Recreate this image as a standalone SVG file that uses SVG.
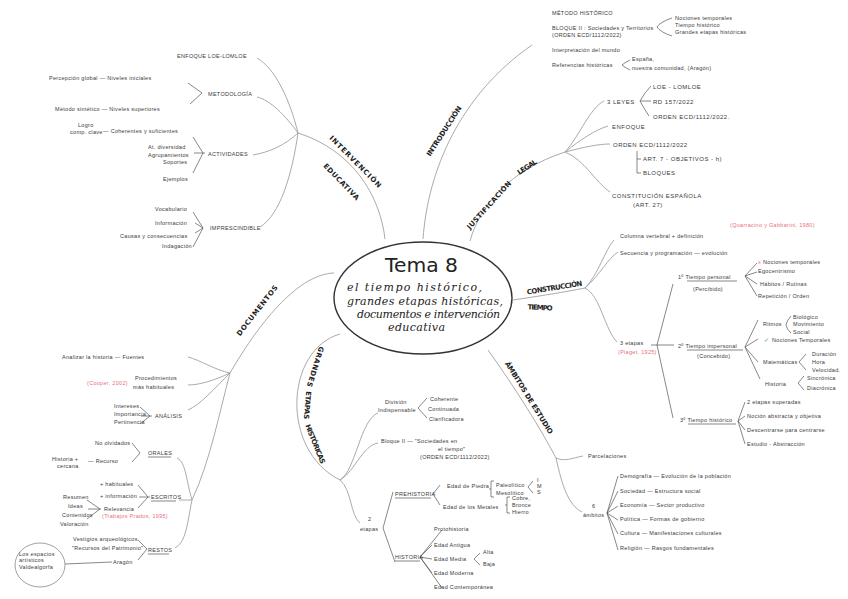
<svg xmlns="http://www.w3.org/2000/svg" width="848" height="599" viewBox="0 0 848 599">
<style>
.ln{fill:none;stroke:#a0a0a0;stroke-width:0.9}
.br{fill:none;stroke:#555;stroke-width:0.7}
.t{font-family:"Liberation Sans",sans-serif;font-size:5.5px;fill:#3a3a3a;letter-spacing:0.3px}
.c{font-size:6px;letter-spacing:0.5px}
.r{fill:#e8707e}
.g{fill:#3aa655}
.h{font-family:"DejaVu Sans",sans-serif;font-weight:bold;font-size:7px;fill:#222;text-anchor:middle}
.m{font-family:"DejaVu Serif",serif;font-style:italic;font-size:11px;fill:#222}
</style>
<rect width="848" height="599" fill="#fff"/>

<g id="connectors">
<path class="ln" d="M423,239 C428,170 460,95 532,45"/>
<path class="ln" d="M470,241 C480,205 510,170 565,152"/>
<path class="ln" d="M385,239 C380,195 352,150 298,133"/>
<path class="ln" d="M334,273 C300,274 262,318 230,373"/>
<path class="ln" d="M340,334 C285,350 280,450 340,480"/>
<path class="ln" d="M513,300 C540,296 565,292 585,288"/>
<path class="ln" d="M488,350 C508,378 536,420 556,458"/>
<path class="ln" d="M565,152 C580,135 590,108 604,101"/>
<path class="ln" d="M565,152 C580,140 595,130 608,126"/>
<path class="ln" d="M565,152 C585,147 598,144 610,144"/>
<path class="ln" d="M565,152 C585,160 595,182 610,192"/>
<path class="ln" d="M298,133 C290,100 275,68 257,58"/>
<path class="ln" d="M298,133 C285,115 270,100 257,97"/>
<path class="ln" d="M298,133 C285,145 270,152 253,155"/>
<path class="ln" d="M298,133 C292,175 280,215 260,227"/>
<path class="ln" d="M230,373 C215,370 200,360 188,357"/>
<path class="ln" d="M230,373 C215,380 200,385 188,385"/>
<path class="ln" d="M230,373 C215,388 200,405 188,410"/>
<path class="ln" d="M230,373 C220,410 210,462 192,500"/>
<path class="ln" d="M192,500 C186,480 186,462 177,458"/>
<path class="ln" d="M192,500 C188,500 184,500 179,500"/>
<path class="ln" d="M192,500 C187,525 186,542 175,548"/>
<path class="ln" d="M340,480 C356,470 360,420 378,413"/>
<path class="ln" d="M340,480 C356,470 362,446 378,443"/>
<path class="ln" d="M340,480 C352,490 350,515 360,523"/>
<path class="ln" d="M585,288 C598,275 605,250 614,240"/>
<path class="ln" d="M585,288 C600,275 608,258 618,252"/>
<path class="ln" d="M585,288 C600,295 605,330 617,342"/>
<path class="ln" d="M556,458 C565,462 572,458 583,456"/>
<path class="ln" d="M556,458 C562,485 568,505 582,512"/>

<path class="br" d="M672,18 Q660,22 657,27 Q660,32 672,36"/>
<path class="br" d="M630,60 Q624,63 622,65 Q624,67 630,70"/>
<path class="br" d="M651,86 Q645,92 640,101 Q645,110 649,116 M640,101 L651,101"/>
<path class="br" d="M637,151 L637,173 L641,173 M637,159 L641,159"/>
<path class="br" d="M188,83 L202,93 L190,104"/>
<path class="br" d="M193,137 L203,153 L193,173 M194,153 L205,153"/>
<path class="br" d="M193,212 L203,228 L193,247 M195,223 L203,228 L195,233"/>
<path class="br" d="M140,407 L150,416 L140,424 M141,416 L152,416"/>
<path class="br" d="M132,443 L140,453 L132,462"/>
<path class="br" d="M138,485 L148,497 L138,508 M139,497 L150,497"/>
<path class="br" d="M87,500 L100,509 L87,519 M88,509 L101,509"/>
<path class="br" d="M138,540 L147,549 L138,560"/>
<path class="br" d="M65,564 L112,562"/>
<path class="br" d="M427,398 L418,408 L427,418"/>
<path class="br" d="M393,492 L383,528 L395,562"/>
<path class="br" d="M440,485 L433,494 L440,505"/>
<path class="br" d="M494,481 L491,481 L491,497 L494,497 M489,489 L491,489"/>
<path class="br" d="M533,481 L528,487 L533,493"/>
<path class="br" d="M510,497 L507,497 L507,513 L510,513 M505,505 L507,505"/>
<path class="br" d="M442,530 L420,557 L442,588 M420,557 L432,545 M420,557 L432,559 M420,557 L432,573"/>
<path class="br" d="M480,553 L474,559 L480,565"/>
<path class="br" d="M651,345 L674,345 M673,284 L657,345 L673,418"/>
<path class="br" d="M757,263 L745,276 L757,296 M745,276 L757,272 M745,276 L757,284"/>
<path class="br" d="M758,320 L745,347 L760,379 M745,347 L758,339 M745,347 L758,362"/>
<path class="br" d="M791,316 Q787,320 786,325 Q787,330 791,333"/>
<path class="br" d="M806,354 L799,362 L806,370"/>
<path class="br" d="M804,376 L798,383 L804,390"/>
<path class="br" d="M745,402 L738,421 L745,444 M738,421 L745,416 M738,421 L745,430"/>
<path class="br" d="M618,476 L607,513 L618,550 M607,513 L618,491 M607,513 L618,506 M607,513 L618,520 M607,513 L618,534"/>
<path class="br" d="M687,281 L737,281 M687,350 L743,350 M688,424 L736,424 M148,457 L171,457 M151,501 L176,501 M148,554 L169,554 M395,498 L431,498 M395,561 L420,561"/>
</g>

<g id="center">
<ellipse cx="423" cy="298" rx="89" ry="56" fill="none" stroke="#333" stroke-width="1.4"/>
<text x="385" y="272" font-family="DejaVu Sans, sans-serif" font-size="19" fill="#222" textLength="73" lengthAdjust="spacingAndGlyphs">Tema 8</text>
<text class="m" x="347" y="291" textLength="135" lengthAdjust="spacing">el tiempo histórico,</text>
<text class="m" x="347" y="305" textLength="156" lengthAdjust="spacing">grandes etapas históricas,</text>
<text class="m" x="357" y="318" textLength="143" lengthAdjust="spacing">documentos e intervención</text>
<text class="m" x="388" y="331" textLength="57" lengthAdjust="spacing">educativa</text>
</g>

<g id="introduccion">
<text class="h" transform="translate(444,131) rotate(-57)" dy="2.5" textLength="58">INTRODUCCIÓN</text>
<text class="t" x="552" y="15">MÉTODO HISTÓRICO</text>
<text class="t" x="552" y="30">BLOQUE II : Sociedades y Territorios</text>
<text class="t" x="552" y="37">(ORDEN ECD/1112/2022)</text>
<text class="t" x="675" y="20">Nociones temporales</text>
<text class="t" x="675" y="27">Tiempo histórico</text>
<text class="t" x="675" y="34">Grandes etapas históricas</text>
<text class="t" x="552" y="52">Interpretación del mundo</text>
<text class="t" x="552" y="67">Referencias históricas</text>
<text class="t" x="632" y="61">España,</text>
<text class="t" x="632" y="70">nuestra comunidad, (Aragón)</text>
</g>

<g id="justificacion">
<text class="h" transform="translate(489,205) rotate(-48)" dy="2.5" textLength="62">JUSTIFICACIÓN</text>
<text class="h" transform="translate(527,167) rotate(-33)" dy="2.5" textLength="22">LEGAL</text>
<text class="t c" x="607" y="104">3 LEYES</text>
<text class="t c" x="653" y="89">LOE - LOMLOE</text>
<text class="t c" x="653" y="104">RD 157/2022</text>
<text class="t c" x="653" y="119">ORDEN ECD/1112/2022.</text>
<text class="t c" x="612" y="129">ENFOQUE</text>
<text class="t c" x="613" y="147">ORDEN ECD/1112/2022</text>
<text class="t c" x="643" y="161">ART. 7 - OBJETIVOS - h)</text>
<text class="t c" x="643" y="175">BLOQUES</text>
<text class="t c" x="612" y="198">CONSTITUCIÓN ESPAÑOLA</text>
<text class="t c" x="633" y="207">(ART. 27)</text>
</g>

<g id="intervencion">
<text class="h" transform="translate(353,164) rotate(45)" dy="-1" textLength="70">INTERVENCIÓN</text>
<text class="h" transform="translate(341,182) rotate(46)" dy="2" textLength="48">EDUCATIVA</text>
<text class="t" x="177" y="58">ENFOQUE LOE-LOMLOE</text>
<text class="t" x="49" y="80">Percepción global — Niveles iniciales</text>
<text class="t" x="55" y="111">Método sintético — Niveles superiores</text>
<text class="t" x="208" y="96">METODOLOGÍA</text>
<text class="t" x="78" y="127">Logro</text>
<text class="t" x="70" y="134">comp. clave</text>
<text class="t" x="103" y="133">— Coherentes y suficientes</text>
<text class="t" x="148" y="149">At. diversidad</text>
<text class="t" x="148" y="157">Agrupamientos</text>
<text class="t" x="163" y="164">Soportes</text>
<text class="t" x="163" y="181">Ejemplos</text>
<text class="t" x="208" y="156">ACTIVIDADES</text>
<text class="t" x="155" y="211">Vocabulario</text>
<text class="t" x="155" y="225">Información</text>
<text class="t" x="120" y="238">Causas y consecuencias</text>
<text class="t" x="162" y="248">Indagación</text>
<text class="t" x="210" y="230">IMPRESCINDIBLE</text>
</g>

<g id="documentos">
<text class="h" transform="translate(259,312) rotate(-52)" dy="0" textLength="62">DOCUMENTOS</text>
<text class="t" x="62" y="359">Analizar la historia — Fuentes</text>
<text class="t" x="135" y="380">Procedimientos</text>
<text class="t" x="133" y="389">más habituales</text>
<text class="t r" x="87" y="385">(Cooper, 2002)</text>
<text class="t" x="114" y="408">Intereses</text>
<text class="t" x="114" y="416">Importancia</text>
<text class="t" x="114" y="424">Pertinencia</text>
<text class="t" x="155" y="418">ANÁLISIS</text>
<text class="t" x="95" y="445">No olvidados</text>
<text class="t" x="52" y="461">Historia +</text>
<text class="t" x="57" y="468">cercana</text>
<text class="t" x="88" y="463">— Recurso</text>
<text class="t" x="148" y="455">ORALES</text>
<text class="t" x="100" y="486">+ habituales</text>
<text class="t" x="100" y="498">+ información</text>
<text class="t" x="104" y="511">Relevancia</text>
<text class="t r" x="102" y="518" font-size="4.5">(Trabajos Prados, 1995)</text>
<text class="t" x="63" y="499">Resumen</text>
<text class="t" x="68" y="508">Ideas</text>
<text class="t" x="62" y="517">Contenidos</text>
<text class="t" x="60" y="526">Valoración</text>
<text class="t" x="151" y="499">ESCRITOS</text>
<text class="t" x="73" y="541">Vestigios arqueológicos</text>
<text class="t" x="72" y="550">"Recursos del Patrimonio"</text>
<text class="t" x="113" y="564">Aragón</text>
<text class="t" x="148" y="552">RESTOS</text>
</g>

<g id="espacios">
<ellipse cx="40" cy="565" rx="25" ry="22" fill="none" stroke="#888" stroke-width="0.8"/>
<text class="t" x="19" y="556" font-size="4.8">Los espacios</text>
<text class="t" x="19" y="562" font-size="4.8">artísticos</text>
<text class="t" x="19" y="569" font-size="4.8">Valdealgorfa</text>
</g>

<g id="grandes-etapas">
<text class="h" transform="translate(313,366) rotate(107)" dy="0" textLength="42">GRANDES</text>
<text class="h" transform="translate(305,405) rotate(95)" dy="0" textLength="28">ETAPAS</text>
<text class="h" transform="translate(313,445) rotate(68)" dy="0" textLength="42">HISTÓRICAS</text>
<text class="t" x="385" y="404">División</text>
<text class="t" x="378" y="412">Indispensable</text>
<text class="t" x="430" y="401">Coherente</text>
<text class="t" x="428" y="411">Continuada</text>
<text class="t" x="429" y="421">Clarificadora</text>
<text class="t" x="381" y="443">Bloque II  —  "Sociedades en</text>
<text class="t" x="438" y="451">el tiempo"</text>
<text class="t" x="420" y="459">(ORDEN ECD/1112/2022)</text>
<text class="t" x="368" y="521">2</text>
<text class="t" x="360" y="531">etapas</text>
<text class="t" x="395" y="496">PREHISTORIA</text>
<text class="t" x="447" y="488">Edad de Piedra</text>
<text class="t" x="496" y="487">Paleolítico</text>
<text class="t" x="496" y="495">Mesolítico</text>
<text class="t" x="537" y="482">I</text>
<text class="t" x="537" y="488">M</text>
<text class="t" x="537" y="494">S</text>
<text class="t" x="443" y="509">Edad de los Metales</text>
<text class="t" x="512" y="500">Cobre,</text>
<text class="t" x="512" y="507">Bronce</text>
<text class="t" x="512" y="514">Hierro</text>
<text class="t" x="395" y="559">HISTORIA</text>
<text class="t" x="434" y="531">Protohistoria</text>
<text class="t" x="434" y="547">Edad Antigua</text>
<text class="t" x="434" y="561">Edad Media</text>
<text class="t" x="483" y="554">Alta</text>
<text class="t" x="483" y="566">Baja</text>
<text class="t" x="434" y="575">Edad Moderna</text>
<text class="t" x="434" y="589">Edad Contemporánea</text>
</g>

<g id="construccion">
<text class="h" transform="translate(555,290) rotate(-9)" dy="0" textLength="56">CONSTRUCCIÓN</text>
<text class="h" transform="translate(540,310) rotate(3)" dy="0" textLength="25">TIEMPO</text>
<text class="t r" x="730" y="227">(Quarracino y Gabbarini, 1980)</text>
<text class="t" x="620" y="238">Columna vertebral + definición</text>
<text class="t" x="620" y="255">Secuencia y programación — evolución</text>
<text class="t" x="620" y="345">3 etapas</text>
<text class="t r" x="618" y="354">(Piaget, 1925)</text>
<text class="t" x="678" y="279">1º  Tiempo personal</text>
<text class="t" x="693" y="291">(Percibido)</text>
<text class="t r" x="758" y="264">x</text>
<text class="t" x="763" y="264">Nociones temporales</text>
<text class="t" x="758" y="273">Egocentrismo</text>
<text class="t" x="760" y="286">Hábitos / Rutinas</text>
<text class="t" x="758" y="298">Repetición / Orden</text>
<text class="t" x="678" y="348">2º  Tiempo impersonal</text>
<text class="t" x="697" y="358">(Concebido)</text>
<text class="t" x="763" y="326">Ritmos</text>
<text class="t" x="793" y="319">Biológico</text>
<text class="t" x="793" y="326">Movimiento</text>
<text class="t" x="793" y="334">Social</text>
<text class="t g" x="764" y="342">✓</text>
<text class="t" x="772" y="342">Nociones Temporales</text>
<text class="t" x="763" y="364">Matemáticas</text>
<text class="t" x="812" y="356">Duración</text>
<text class="t" x="812" y="364">Hora</text>
<text class="t" x="812" y="372">Velocidad.</text>
<text class="t" x="765" y="386">Historia</text>
<text class="t" x="807" y="380">Sincrónica</text>
<text class="t" x="807" y="390">Diacrónica</text>
<text class="t" x="680" y="422">3º  Tiempo histórico</text>
<text class="t" x="747" y="404">2 etapas superadas</text>
<text class="t" x="747" y="418">Noción abstracta y objetiva</text>
<text class="t" x="747" y="432">Descentrarse para centrarse</text>
<text class="t" x="747" y="446">Estudio - Abstracción</text>
</g>

<g id="ambitos">
<text class="h" transform="translate(527,399) rotate(58)" dy="0" textLength="84">ÁMBITOS DE ESTUDIO</text>
<text class="t" x="588" y="458">Parcelaciones</text>
<text class="t" x="592" y="508">6</text>
<text class="t" x="583" y="517">ámbitos</text>
<text class="t" x="620" y="478">Demografía — Evolución de la población</text>
<text class="t" x="620" y="493">Sociedad — Estructura social</text>
<text class="t" x="620" y="507">Economía — Sector productivo</text>
<text class="t" x="620" y="521">Política — Formas de gobierno</text>
<text class="t" x="620" y="535">Cultura — Manifestaciones culturales</text>
<text class="t" x="620" y="550">Religión — Rasgos fundamentales</text>
</g>
</svg>
